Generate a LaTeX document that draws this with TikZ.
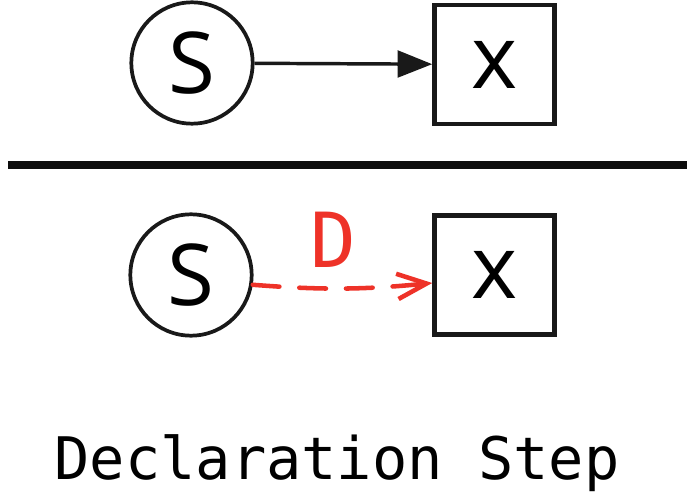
\documentclass[tikz,border=0pt]{standalone}
\usepackage{fontspec}
\usepackage{tikz}
\usetikzlibrary{arrows.meta, positioning, shapes.geometric}
\newfontfamily\symfont{Open Sans}
\newfontfamily\monofont{DejaVu Sans Mono}
\definecolor{declred}{RGB}{238,50,40}
\tikzset{
    statenode/.style={draw, circle, minimum size=91pt, inner sep=0pt, line width=2.8pt, draw=black!90, font=\symfont\fontsize{64}{64}\selectfont},
    varbox/.style={draw, rectangle, minimum width=90pt, minimum height=89.5pt, inner sep=0pt, line width=3.4pt, draw=black!90, font=\symfont\fontsize{66}{66}\selectfont},
    plainarrow/.style={-{Triangle[length=26pt, width=20pt]}, line width=2.6pt, draw=black!90, fill=black!90},
    declarrow/.style={-{Straight Barb[length=22pt, width=19pt]}, line width=3.4pt, draw=declred, dash pattern=on 20pt off 15pt, line cap=round},
    declabel/.style={font=\monofont\fontsize{57}{57}\selectfont, text=declred},
    caption/.style={font=\monofont\fontsize{44}{44}\selectfont, anchor=base}
}
\begin{document}
\begin{tikzpicture}[x=0.75pt, y=0.75pt]
        \useasboundingbox (0,0) rectangle (687,497);

        % -----------------------------------------------------------------
        % TOP: S -> x
        % -----------------------------------------------------------------
        \node[statenode] (s1) at (192, 434) {S};
        \node[varbox] (x1) at (494.5, 432.5) {x};
        \draw[plainarrow] (s1) -- (x1);

        % separating rule
        \coordinate (ruleL) at (8, 332);
        \coordinate (ruleR) at (687, 332);
        \draw[line width=5.5pt, black!95] (ruleL) -- (ruleR);

        % -----------------------------------------------------------------
        % BOTTOM: S -D-> x
        % -----------------------------------------------------------------
        \node[statenode] (s2) at (191, 222) {S};
        \node[varbox] (x2) at (494.5, 222) {x};
        \draw[declarrow] (s2.-9) to[bend right=5] ([yshift=-6pt]x2.west);
        \node[declabel] (dlab) at (333, 257) {D};

        % caption
        \node[caption] (cap) at (337, 17) {Declaration Step};

    \end{tikzpicture}
\end{document}
